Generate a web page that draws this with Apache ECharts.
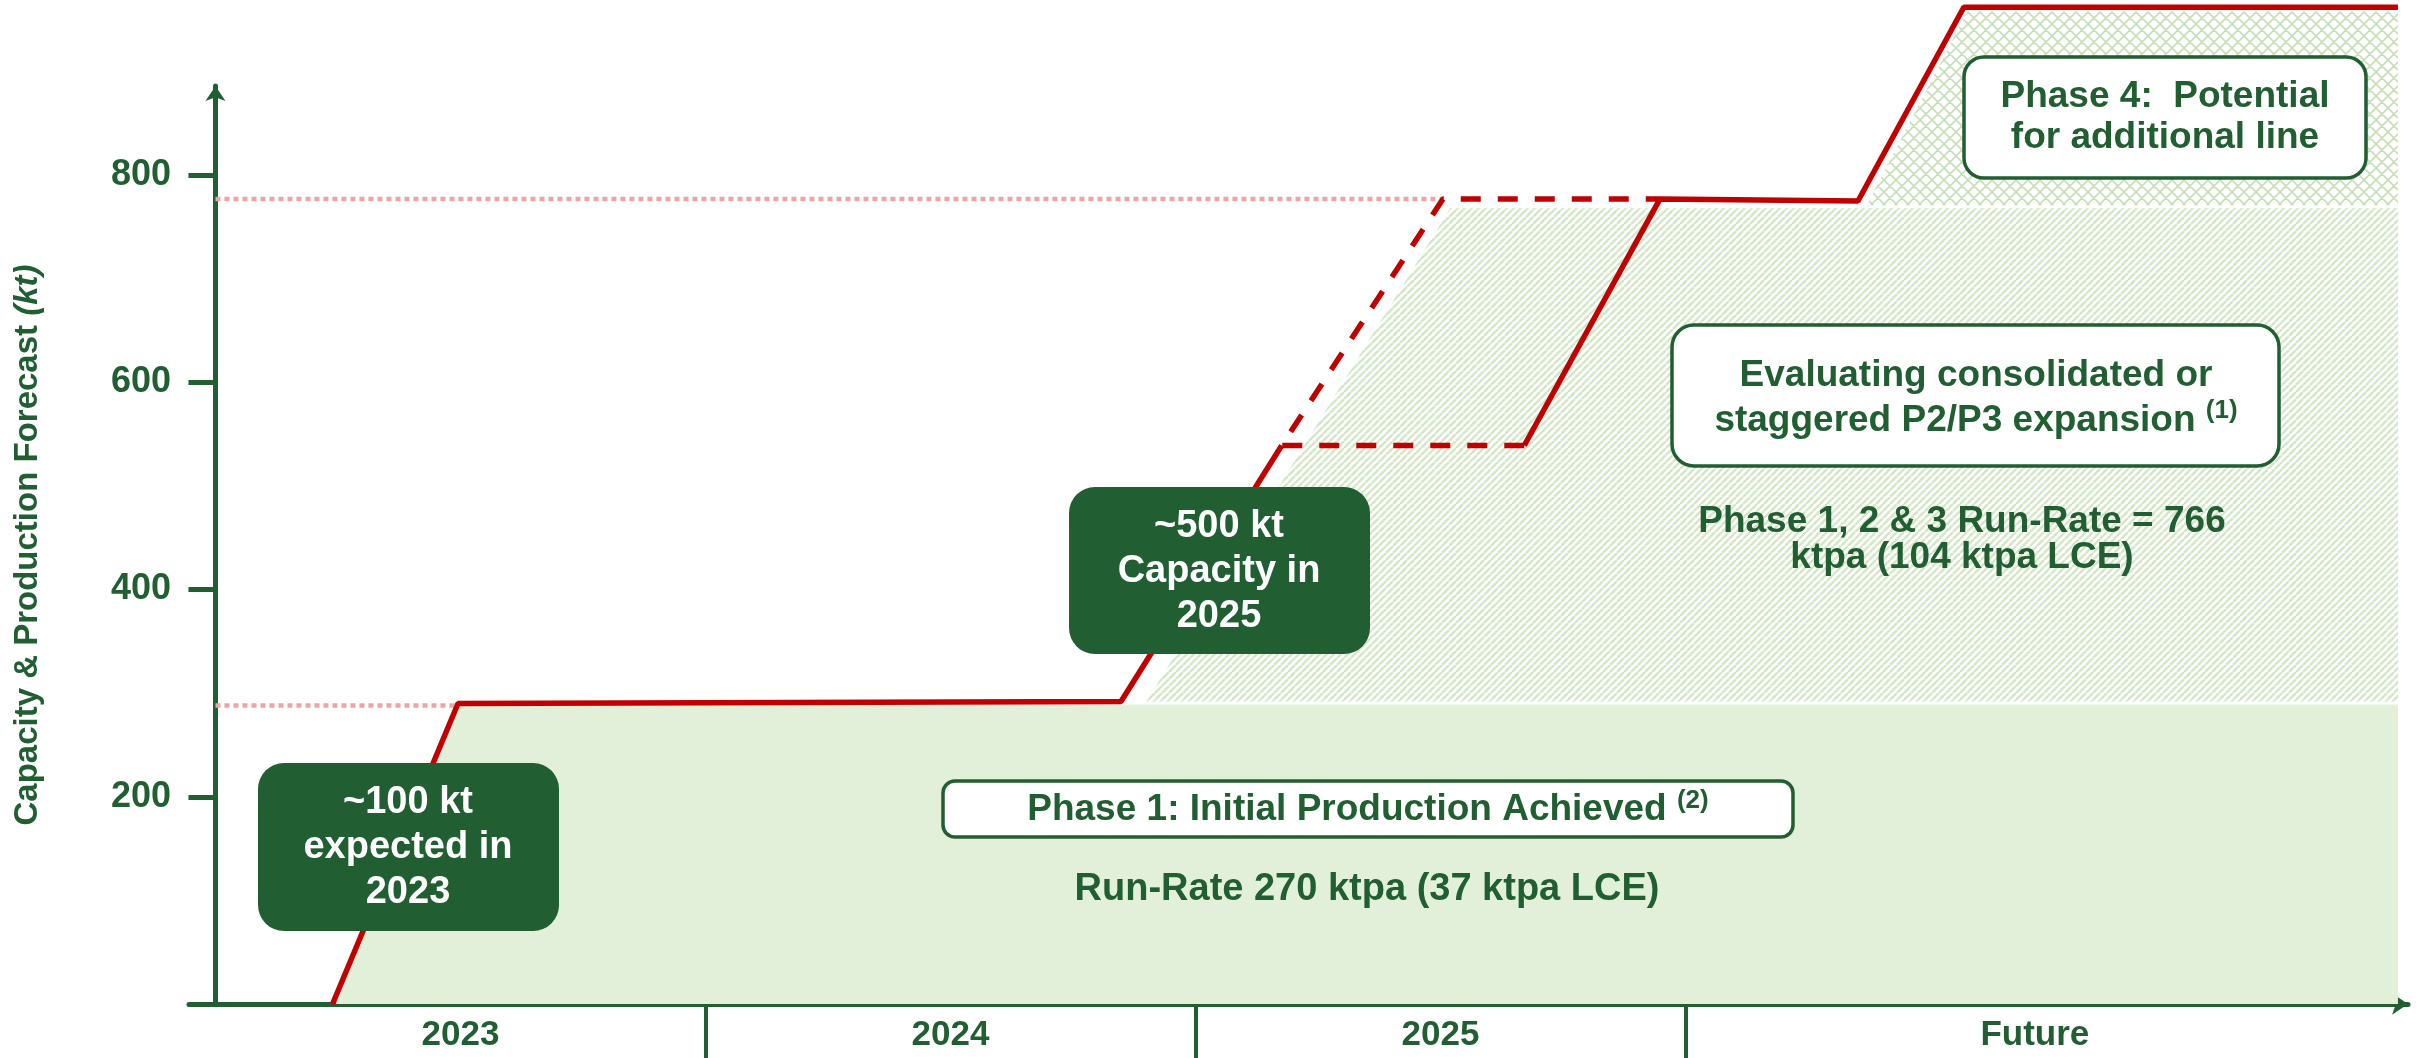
<!DOCTYPE html>
<html>
<head>
<meta charset="utf-8">
<title>Capacity & Production Forecast</title>
<script src="https://cdn.jsdelivr.net/npm/echarts@6.0.0/dist/echarts.min.js"></script>
<style>
  html, body { margin: 0; padding: 0; background: #fff; }
  #chart { width: 2428px; height: 1058px; }
</style>
</head>
<body>
<div id="chart"></div>
<script>
// x is measured in years from the start of 2023 ("Future" is a wider band)
const categories = ['2023', '2024', '2025', 'Future']
const categoryCenters = [0.5, 1.5, 2.5, 3.713]
const categoryBounds = [1, 2, 3]
const yTicks = [200, 400, 600, 800]

// red capacity line (kt)
const rampLine = [[0.239, 0], [0.495, 290], [1.848, 292], [2.176, 539]]
const optionLine = [[2.671, 539], [2.176, 539], [2.505, 777], [2.948, 777]]   // dashed
const plannedLine = [[2.671, 539], [2.948, 777], [3.352, 775], [3.568, 962], [4.454, 962]]

// shaded phases
const phase1Area = [[0.245, 0], [0.5, 289], [4.454, 289]]
const phase23Area = [[1.9, 292], [2.52, 768], [4.454, 768]]
const phase4Area = [[3.37, 771], [3.575, 958], [4.454, 958]]

// pink dotted guides back to the axis
const guideLow = [[0, 288], [0.495, 288]]
const guideHigh = [[0, 777], [2.505, 777]]

const green = '#215e31'
const red = '#c00000'
const font = '"Liberation Sans", Arial, sans-serif'

const makeTile = (size, color, width, cross) => {
  const c = document.createElement('canvas')
  c.width = size
  c.height = size
  const ctx = c.getContext('2d')
  ctx.fillStyle = '#fff'
  ctx.fillRect(0, 0, size, size)
  ctx.strokeStyle = color
  ctx.lineWidth = width
  ctx.beginPath()
  for (let k = -1; k <= 1; k++) {
    ctx.moveTo(k * size, size)
    ctx.lineTo(k * size + size, 0)
    if (cross) {
      ctx.moveTo(k * size, 0)
      ctx.lineTo(k * size + size, size)
    }
  }
  ctx.stroke()
  return c
}

const diagTile = makeTile(7, '#d3e7c7', 2.4, false)
const crossTile = makeTile(12, '#c6dfb6', 1.6, true)

const areaSeries = (data, fill, origin, z) => ({
  type: 'line',
  data: data,
  symbol: 'none',
  clip: false,
  silent: true,
  z: z,
  lineStyle: { width: 0 },
  areaStyle: { color: fill, opacity: 1, origin: origin }
})

const lineSeries = (data, style, z) => ({
  type: 'line',
  data: data,
  symbol: 'none',
  clip: false,
  silent: true,
  z: z,
  lineStyle: style
})

const txt = (size, color, extra) => Object.assign({
  fontSize: size, fontWeight: 'bold', fontFamily: font, fill: color
}, extra || {})

const sup = (color) => ({
  fontSize: 26, fontWeight: 'bold', fontFamily: font, fill: color,
  lineHeight: 32, verticalAlign: 'top'
})

const box = (x, y, w, h, r, filled) => ({
  type: 'rect',
  z: 100,
  shape: { x: x, y: y, width: w, height: h, r: r },
  style: filled ? { fill: green } : { fill: '#fff', stroke: green, lineWidth: 3.5 }
})

const label = (x, y, text, color, lineHeight, size) => ({
  type: 'text',
  z: 101,
  x: x,
  y: y,
  style: Object.assign(txt(size, color), {
    text: text,
    align: 'center',
    verticalAlign: 'middle',
    textAlign: 'center',
    textVerticalAlign: 'middle',
    lineHeight: lineHeight,
    rich: { sup: sup(color) }
  })
})

const chart = echarts.init(document.getElementById('chart'))

chart.setOption({
  animation: false,
  backgroundColor: '#fff',
  grid: { left: 189, right: 20, top: 86, bottom: 54, outerBoundsMode: 'none', containLabel: false },
  xAxis: {
    type: 'value',
    min: -0.054,
    max: 4.4745,
    splitLine: { show: false },
    axisLine: {
      show: true,
      symbol: ['none', 'arrow'],
      symbolSize: [16, 16],
      lineStyle: { color: green, width: 5 }
    },
    axisTick: {
      show: true,
      customValues: categoryBounds,
      length: 54,
      lineStyle: { color: green, width: 4 }
    },
    axisLabel: {
      customValues: categoryCenters,
      margin: 14,
      color: green,
      fontSize: 35,
      fontWeight: 'bold',
      fontFamily: font,
      formatter: (v) => {
        const i = categoryCenters.findIndex(c => Math.abs(c - v) < 1e-6)
        return i >= 0 ? categories[i] : ''
      }
    }
  },
  yAxis: {
    type: 'value',
    min: 0,
    max: 886,
    splitLine: { show: false },
    axisLine: {
      show: true,
      onZero: true,
      symbol: ['none', 'arrow'],
      symbolSize: [15, 15],
      lineStyle: { color: green, width: 5 }
    },
    axisTick: {
      show: true,
      customValues: yTicks,
      length: 27,
      lineStyle: { color: green, width: 5 }
    },
    axisLabel: {
      customValues: yTicks,
      margin: 18,
      color: green,
      fontSize: 36,
      fontWeight: 'bold',
      fontFamily: font
    },
    name: 'Capacity & Production Forecast {it|(kt)}',
    nameLocation: 'middle',
    nameRotate: 90,
    nameGap: 145,
    nameTextStyle: {
      color: green,
      fontSize: 33,
      fontWeight: 'bold',
      fontFamily: font,
      rich: {
        it: { color: green, fontSize: 33, fontWeight: 'bold', fontStyle: 'italic', fontFamily: font }
      }
    }
  },
  series: [
    areaSeries(phase4Area, { image: crossTile, repeat: 'repeat' }, 771, 1),
    areaSeries(phase23Area, { image: diagTile, repeat: 'repeat' }, 292, 2),
    areaSeries(phase1Area, '#e2efd9', 'start', 3),
    lineSeries(guideLow, { color: '#eea4a4', width: 4.5, type: [5, 4] }, 4),
    lineSeries(guideHigh, { color: '#eea4a4', width: 4.5, type: [5, 4] }, 4),
    lineSeries(rampLine, { color: red, width: 5.5 }, 5),
    lineSeries(optionLine, { color: red, width: 5.5, type: [20, 17] }, 5),
    lineSeries(plannedLine, { color: red, width: 5.5 }, 5)
  ],
  graphic: [
    box(258, 763, 301, 168, 26, true),
    label(408, 848, '~100 kt\nexpected in\n2023', '#fff', 45, 38),
    box(1069, 487, 301, 167, 26, true),
    label(1219, 572, '~500 kt\nCapacity in\n2025', '#fff', 45, 38),
    box(943, 781, 850, 56, 12, false),
    label(1368, 810, 'Phase 1: Initial Production Achieved {sup|(2)}', green, 44, 37),
    label(1367, 890, 'Run-Rate 270 ktpa (37 ktpa LCE)', green, 44, 38),
    box(1672, 325, 607, 141, 22, false),
    label(1976, 398, 'Evaluating consolidated or\nstaggered P2/P3 expansion {sup|(1)}', green, 45, 37),
    label(1962, 540, 'Phase 1, 2 & 3 Run-Rate = 766\nktpa (104 ktpa LCE)', green, 36, 37),
    box(1964, 57, 402, 121, 20, false),
    label(2165, 117, 'Phase 4:  Potential\nfor additional line', green, 41, 37)
  ]
})
</script>
</body>
</html>
